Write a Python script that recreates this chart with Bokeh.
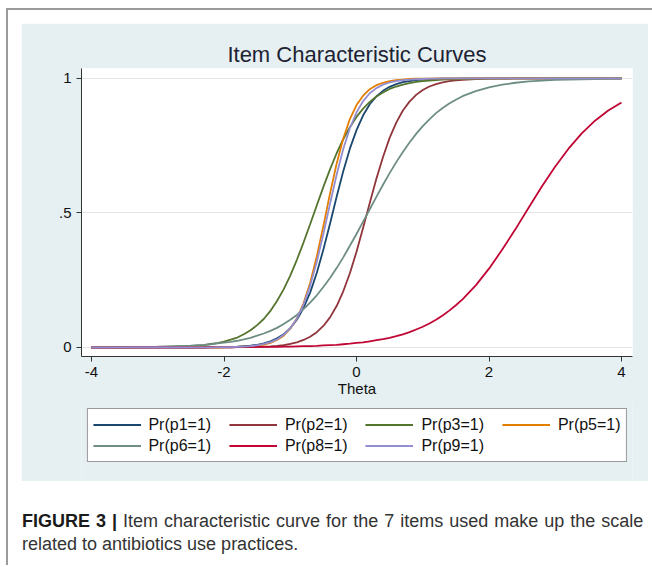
from bokeh.plotting import figure
from bokeh.models import Legend, LegendItem, FixedTicker, Div
from bokeh.layouts import column
from bokeh.embed import file_html
from bokeh.resources import INLINE

# ---- data ----
theta = [-4.0, -3.5, -3.0, -2.5, -2.4, -2.3, -2.2, -2.1, -2.0, -1.9, -1.8, -1.7, -1.6, -1.5,
         -1.4, -1.3, -1.2, -1.1, -1.0, -0.9, -0.8, -0.7, -0.6, -0.5, -0.4, -0.3, -0.2, -0.1,
         0.0, 0.1, 0.2, 0.3, 0.4, 0.5, 0.6, 0.7, 0.8, 0.9, 1.0, 1.1, 1.2, 1.3, 1.4, 1.5, 1.6,
         1.8, 2.0, 2.2, 2.4, 2.6, 2.8, 3.0, 3.2, 3.4, 3.6, 3.8, 4.0]

pr_p1 = [0, 0, 0, 0, 0, 0, 0.001, 0.001, 0.001, 0.002, 0.003, 0.005, 0.007, 0.010, 0.015,
         0.023, 0.034, 0.049, 0.072, 0.103, 0.147, 0.204, 0.277, 0.364, 0.460, 0.560, 0.655,
         0.739, 0.808, 0.863, 0.904, 0.933, 0.954, 0.969, 0.979, 0.986, 0.990, 0.994, 0.996,
         0.997, 0.998, 0.999, 0.999, 0.999, 1, 1, 1, 1, 1, 1, 1, 1, 1, 1, 1, 1, 1]
pr_p2 = [0, 0, 0, 0, 0, 0, 0, 0, 0, 0, 0.001, 0.001, 0.001, 0.002, 0.003, 0.004, 0.006, 0.009,
         0.013, 0.019, 0.028, 0.040, 0.057, 0.080, 0.112, 0.154, 0.209, 0.276, 0.356, 0.445,
         0.537, 0.627, 0.708, 0.779, 0.836, 0.881, 0.914, 0.939, 0.957, 0.970, 0.979, 0.985,
         0.990, 0.993, 0.995, 0.998, 0.999, 0.999, 1, 1, 1, 1, 1, 1, 1, 1, 1]
pr_p3 = [0, 0, 0.001, 0.005, 0.007, 0.009, 0.013, 0.016, 0.022, 0.029, 0.037, 0.049, 0.064,
         0.083, 0.106, 0.136, 0.173, 0.216, 0.267, 0.326, 0.390, 0.458, 0.528, 0.597, 0.662,
         0.722, 0.774, 0.819, 0.857, 0.888, 0.913, 0.933, 0.948, 0.961, 0.970, 0.977, 0.983,
         0.987, 0.990, 0.992, 0.994, 0.996, 0.997, 0.997, 0.998, 0.999, 0.999, 1, 1, 1, 1, 1,
         1, 1, 1, 1, 1]
pr_p5 = [0, 0, 0, 0, 0, 0, 0, 0, 0.001, 0.001, 0.002, 0.003, 0.004, 0.007, 0.011, 0.017,
         0.028, 0.044, 0.070, 0.108, 0.164, 0.240, 0.338, 0.452, 0.572, 0.683, 0.777, 0.849,
         0.901, 0.936, 0.960, 0.975, 0.984, 0.990, 0.994, 0.996, 0.998, 0.999, 0.999, 0.999,
         1, 1, 1, 1, 1, 1, 1, 1, 1, 1, 1, 1, 1, 1, 1, 1, 1]
pr_p6 = [0, 0.001, 0.003, 0.007, 0.009, 0.010, 0.012, 0.015, 0.018, 0.021, 0.025, 0.030,
         0.036, 0.044, 0.052, 0.062, 0.073, 0.087, 0.103, 0.121, 0.143, 0.167, 0.194, 0.225,
         0.258, 0.295, 0.335, 0.378, 0.422, 0.468, 0.514, 0.560, 0.605, 0.648, 0.689, 0.727,
         0.762, 0.794, 0.823, 0.848, 0.871, 0.890, 0.907, 0.921, 0.934, 0.953, 0.967, 0.977,
         0.984, 0.989, 0.992, 0.995, 0.996, 0.997, 0.998, 0.999, 0.999]
pr_p8 = [0, 0, 0, 0, 0, 0, 0.001, 0.001, 0.001, 0.001, 0.001, 0.001, 0.001, 0.002, 0.002,
         0.002, 0.002, 0.003, 0.003, 0.004, 0.005, 0.005, 0.006, 0.008, 0.009, 0.010, 0.012,
         0.014, 0.017, 0.019, 0.023, 0.027, 0.031, 0.036, 0.042, 0.049, 0.057, 0.067, 0.077,
         0.089, 0.103, 0.119, 0.137, 0.157, 0.179, 0.231, 0.293, 0.364, 0.440, 0.520, 0.599,
         0.673, 0.739, 0.796, 0.843, 0.881, 0.911]
pr_p9 = [0, 0, 0, 0, 0, 0, 0, 0.001, 0.001, 0.001, 0.002, 0.003, 0.005, 0.008, 0.013, 0.020,
         0.030, 0.047, 0.071, 0.108, 0.159, 0.229, 0.318, 0.422, 0.534, 0.642, 0.738, 0.815,
         0.874, 0.916, 0.945, 0.964, 0.977, 0.985, 0.990, 0.994, 0.996, 0.997, 0.998, 0.999,
         0.999, 1, 1, 1, 1, 1, 1, 1, 1, 1, 1, 1, 1, 1, 1, 1, 1]

series = [pr_p1, pr_p2, pr_p3, pr_p5, pr_p6, pr_p8, pr_p9]
labels = ["Pr(p1=1)", "Pr(p2=1)", "Pr(p3=1)", "Pr(p5=1)", "Pr(p6=1)", "Pr(p8=1)", "Pr(p9=1)"]
colors = ["#1a476f", "#90353b", "#55752f", "#e37e00", "#6e8e84", "#c10534", "#938dd2"]

xticks = [-4, -2, 0, 2, 4]
xtick_labels = ["-4", "-2", "0", "2", "4"]
yticks = [0, 0.5, 1]
ytick_labels = ["0", ".5", "1"]

FONT = "Liberation Sans"
PANEL = "#e6eff1"
XR = (-4.151, 4.166)

# ---- main plot ----
p = figure(width=627, height=381, x_range=XR, y_range=(-0.0335, 1.037),
           output_backend="svg", toolbar_location=None,
           min_border_left=60, min_border_right=16, min_border_top=45, min_border_bottom=48,
           title="Item Characteristic Curves")
p.margin = (13, 0, 0, 13)
p.background_fill_color = "white"
p.border_fill_color = PANEL
p.outline_line_color = None

p.title.align = "center"
p.title.text_font = FONT
p.title.text_font_size = "22px"
p.title.text_font_style = "normal"
p.title.text_color = "#1c2333"
p.title.standoff = 4

p.xgrid.visible = False
p.ygrid.ticker = FixedTicker(ticks=yticks)
p.ygrid.grid_line_color = "#e4e4e4"
p.ygrid.grid_line_width = 1

p.xaxis.ticker = FixedTicker(ticks=xticks)
p.xaxis.major_label_overrides = {t: s for t, s in zip(xticks, xtick_labels)}
p.yaxis.ticker = FixedTicker(ticks=yticks)
p.yaxis.major_label_overrides = {t: s for t, s in zip(yticks, ytick_labels)}
p.xaxis.axis_label = "Theta"
for ax in (p.xaxis, p.yaxis):
    ax.axis_line_color = "#333333"
    ax.axis_line_width = 1
    ax.major_tick_line_color = "#333333"
    ax.major_tick_out = 5
    ax.major_tick_in = 0
    ax.minor_tick_line_color = None
    ax.major_label_text_font = FONT
    ax.major_label_text_font_size = "15px"
    ax.major_label_text_color = "#111111"
    ax.major_label_standoff = 5
    ax.axis_label_text_font = FONT
    ax.axis_label_text_font_size = "15px"
    ax.axis_label_text_font_style = "normal"
    ax.axis_label_text_color = "#111111"
    ax.axis_label_standoff = 0

for vals, col in zip(series, colors):
    p.line(x=theta, y=vals, line_color=col, line_width=1.8)

# ---- legend strip (same series, legend only) ----
q = figure(width=627, height=78, x_range=XR, y_range=(0, 1),
           output_backend="svg", toolbar_location=None,
           x_axis_type=None, y_axis_type=None, min_border=0,
           min_border_left=60, min_border_right=16)
q.margin = (-1, 0, 0, 13)
q.background_fill_color = PANEL
q.border_fill_color = PANEL
q.outline_line_color = None
q.xgrid.visible = False
q.ygrid.visible = False

legend_items = []
for vals, lab, col in zip(series, labels, colors):
    r = q.line(x=theta, y=vals, line_color=col, line_width=1.8, visible=False)
    pad = "" if lab == "Pr(p5=1)" else "    "
    legend_items.append(LegendItem(label=lab + pad, renderers=[r]))

legend = Legend(items=legend_items, ncols=4, orientation="horizontal", location="top_center")
legend.border_line_color = "#333333"
legend.border_line_width = 1
legend.background_fill_color = "white"
legend.background_fill_alpha = 1
legend.inactive_fill_alpha = 0
legend.label_text_font = FONT
legend.label_text_font_size = "16px"
legend.label_text_color = "#111111"
legend.label_standoff = 8
legend.glyph_width = 48
legend.glyph_height = 21
legend.label_height = 21
legend.padding = 5
legend.spacing = 0
legend.margin = 5
q.add_layout(legend, "center")

caption = Div(text='<span style="word-spacing:1px"><b style="color:#1a1a1a">FIGURE 3 |</b> Item characteristic curve for the 7 items used make up the scale</span><br>related to antibiotics use practices.',
              width=632, height=55, margin=(29, 0, 0, 14),
              styles={"font-family": FONT, "font-size": "18px", "line-height": "23px", "color": "#333333"})

root = column(p, q, caption, margin=(8, 0, 0, 6),
              styles={"border-top": "2px solid #9a9a9a", "border-left": "2px solid #9a9a9a"})

open("out.html", "w").write(file_html(root, INLINE))
